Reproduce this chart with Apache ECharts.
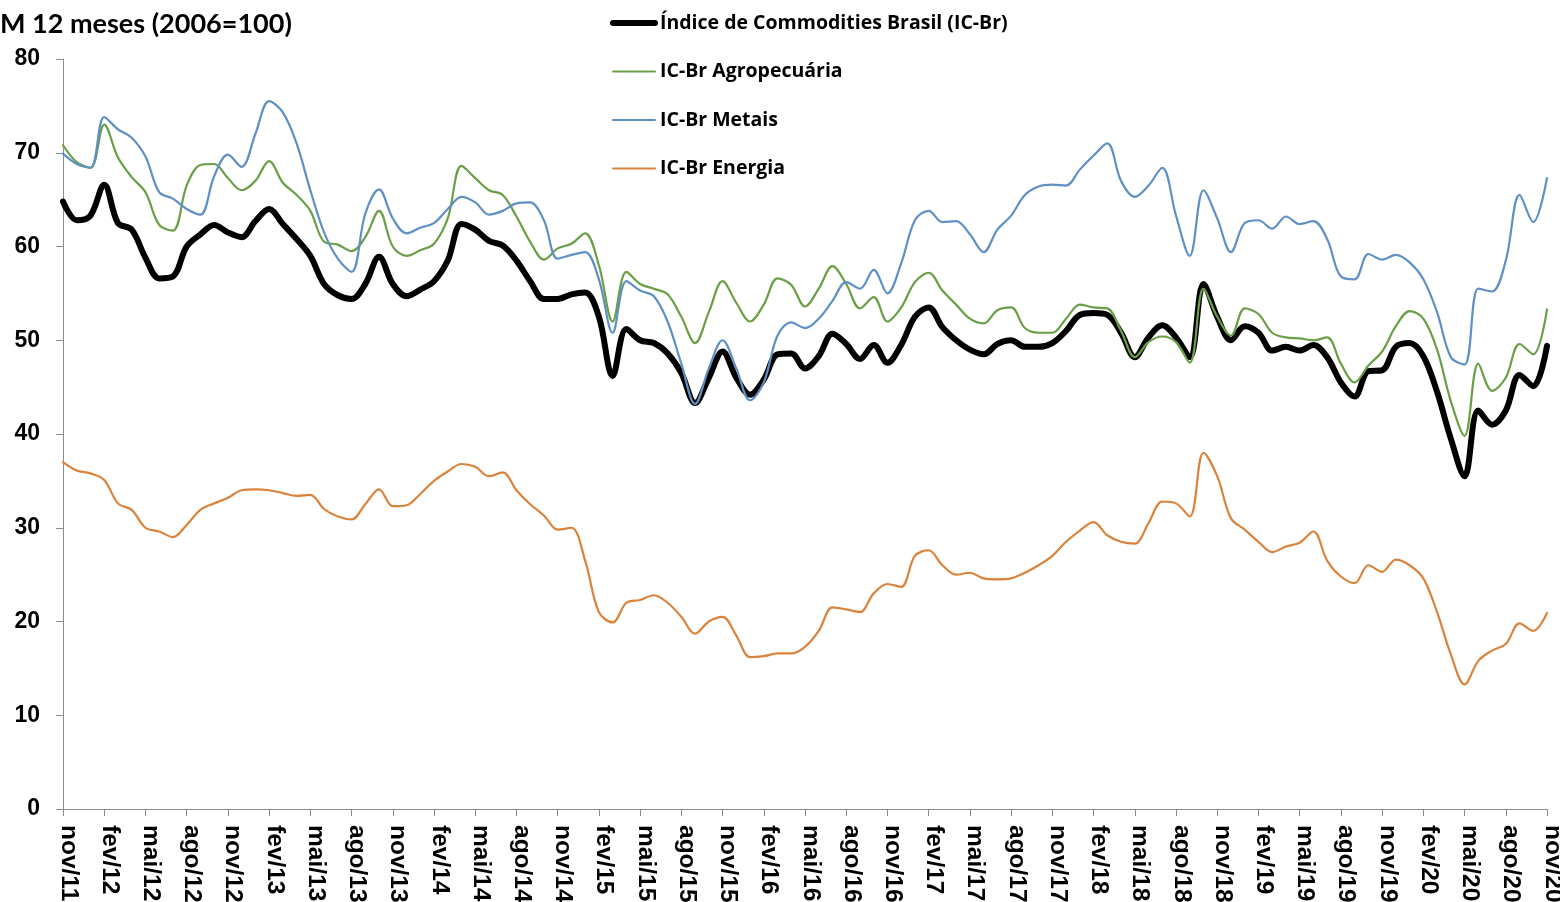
<!DOCTYPE html>
<html>
<head>
<meta charset="utf-8">
<script src="https://cdn.jsdelivr.net/npm/echarts@6/dist/echarts.min.js"></script>
<style>
  html, body { margin: 0; padding: 0; background: #fff; }
  #chart { width: 1560px; height: 902px; }
</style>
</head>
<body>
<div id="chart"></div>
<script>
// Monthly axis: nov/11 .. nov/20 (12-month moving averages, 2006 = 100)
const monthNames = ['jan','fev','mar','abr','mai','jun','jul','ago','set','out','nov','dez'];
const categories = [];
for (let k = 0; k < 109; k++) {
  const m = (10 + k) % 12;
  const y = 11 + Math.floor((10 + k) / 12);
  categories.push(monthNames[m] + '/' + y);
}

const seriesNames = [
  'Índice de Commodities Brasil (IC-Br)',
  'IC-Br Agropecuária',
  'IC-Br Metais',
  'IC-Br Energia'
];

const icBr = [
  64.8, 62.8, 63.3, 66.6, 62.5, 61.8, 58.8, 56.6, 56.8, 60.0,
  61.3, 62.3, 61.5, 61.0, 62.7, 64.0, 62.4, 60.8, 59.0, 56.0,
  54.8, 54.4, 56.0, 58.9, 56.0, 54.7, 55.4, 56.3, 58.5, 62.4,
  61.8, 60.6, 60.1, 58.5, 56.3, 54.4, 54.4, 54.9, 55.1, 52.5,
  46.2, 51.2, 50.0, 49.7, 48.6, 46.5, 43.3, 46.0, 48.8, 46.0,
  44.2, 45.8, 48.5, 48.6, 47.0, 48.3, 50.7, 49.6, 48.0, 49.5,
  47.6, 49.5, 52.5, 53.5, 51.4, 50.0, 49.0, 48.5, 49.6, 50.0,
  49.3, 49.3, 49.7, 51.0, 52.7, 52.9, 52.7, 50.8, 48.2, 50.3,
  51.6, 50.3, 48.2, 56.0, 52.5, 50.0, 51.5, 50.8, 48.9, 49.3,
  48.9, 49.5, 48.2, 45.5, 44.0, 46.7, 46.8, 49.3, 49.7, 48.3,
  44.5, 39.5, 35.5, 42.5, 41.0, 42.5, 46.3, 45.1, 49.4
];

const agro = [
  70.8, 69.0, 68.4, 73.0, 69.5, 67.4, 65.8, 62.3, 61.7, 66.5,
  68.7, 68.8, 67.3, 66.0, 67.0, 69.1, 66.8, 65.5, 63.8, 60.5,
  60.2, 59.5, 61.0, 63.8, 60.0, 59.0, 59.6, 60.3, 63.0, 68.6,
  67.3, 66.0, 65.5, 63.2, 60.5, 58.6, 59.8, 60.3, 61.4, 58.0,
  52.0, 57.3, 56.0, 55.5, 54.9, 52.5, 49.7, 53.0, 56.3, 54.0,
  52.0, 53.8, 56.6, 55.9, 53.6, 55.5, 57.9, 56.0, 53.4, 54.6,
  52.0, 53.5, 56.2, 57.2, 55.3, 53.8, 52.3, 51.8, 53.2, 53.5,
  51.3, 50.8, 50.8, 52.3, 53.8, 53.5, 53.4, 51.0, 48.2, 49.8,
  50.4, 49.8, 47.6, 55.5, 52.5, 50.5, 53.4, 52.8, 50.8, 50.3,
  50.2, 50.0, 50.3, 47.5, 45.5, 47.3, 48.8, 51.5, 53.1, 52.3,
  49.0, 43.5, 39.8, 47.5, 44.6, 46.0, 49.6, 48.5, 53.3
];

const metais = [
  69.9, 68.8, 68.4, 73.8, 72.5, 71.6, 69.6, 65.8, 65.1, 64.0,
  63.4, 67.5, 69.8, 68.5, 72.0, 75.5, 74.3, 71.0, 66.0, 61.5,
  58.7, 57.3, 63.5, 66.1, 63.0, 61.4, 62.0, 62.5, 64.0, 65.3,
  64.7, 63.4, 63.8, 64.6, 64.7, 62.8, 58.7, 59.1, 59.4, 56.5,
  50.8, 56.3, 55.3, 54.7, 52.0, 47.5, 43.2, 47.0, 50.0, 47.0,
  43.6, 45.5, 50.5, 51.9, 51.3, 52.3, 54.2, 56.2, 55.5, 57.5,
  55.0, 58.2, 62.8, 63.8, 62.6, 62.7, 61.3, 59.4, 61.8, 63.3,
  65.5, 66.4, 66.6, 66.5, 68.2, 69.7, 71.0, 67.0, 65.3, 66.5,
  68.4, 63.3, 59.0, 66.0, 63.0, 59.4, 62.5, 62.8, 61.9, 63.2,
  62.4, 62.7, 60.8, 56.8, 56.5, 59.2, 58.6, 59.1, 58.3, 56.5,
  53.0, 48.2, 47.4, 55.5, 55.2, 58.5, 65.5, 62.6, 67.3
];

const energia = [
  37.0, 36.1, 35.8, 35.1, 32.6, 31.9, 30.0, 29.6, 29.0, 30.3,
  31.9, 32.6, 33.2, 34.0, 34.1, 34.0, 33.7, 33.4, 33.5, 32.0,
  31.2, 30.9, 32.5, 34.1, 32.3, 32.4, 33.6, 35.0, 36.0, 36.8,
  36.5, 35.5, 35.9, 34.0, 32.5, 31.3, 29.8, 30.0, 26.5, 21.0,
  19.9, 22.0, 22.3, 22.8, 22.0, 20.5, 18.7, 20.0, 20.5, 18.5,
  16.2, 16.3, 16.6, 16.6, 17.3, 19.0, 21.5, 21.3, 21.0, 23.0,
  24.0, 23.7, 27.0, 27.6, 26.0, 25.0, 25.2, 24.6, 24.5, 24.6,
  25.2, 26.0, 27.0, 28.5, 29.7, 30.6, 29.2, 28.5, 28.3, 30.5,
  32.8, 32.6, 31.2, 38.0, 35.5, 31.0, 29.8, 28.5, 27.4, 28.0,
  28.4, 29.6, 26.5, 24.8, 24.1, 26.0, 25.3, 26.6, 26.0, 24.6,
  21.0, 16.5, 13.3, 15.8, 16.9, 17.6, 19.8, 19.0, 20.9
];

const yTicks = [0, 10, 20, 30, 40, 50, 60, 70, 80];

const colors = ['#000000', '#6a9f47', '#5f90c4', '#d9833c'];
const widths = [6, 2.2, 2.2, 2.2];
const values = [icBr, agro, metais, energia];

const axisGrey = '#8c8c8c';
const labelFont = { fontFamily: 'Liberation Sans', fontWeight: 'bold', color: '#000' };

const chart = echarts.init(document.getElementById('chart'), null, { renderer: 'canvas' });

chart.setOption({
  animation: false,
  backgroundColor: '#ffffff',
  title: {
    text: 'M 12 meses (2006=100)',
    left: 0,
    top: 11,
    padding: 0,
    textStyle: { fontFamily: 'Lato', fontWeight: 'bold', fontSize: 27, color: '#000' }
  },
  legend: {
    show: true,
    orient: 'vertical',
    left: 610,
    top: 13,
    padding: 0,
    itemWidth: 42,
    itemHeight: 20,
    itemGap: 28.5,
    itemStyle: { opacity: 0 },
    textStyle: { fontFamily: 'Open Sans', fontWeight: 'bold', fontSize: 19.5, lineHeight: 20, color: '#000' },
    data: [
      { name: seriesNames[0], lineStyle: { width: 6 } },
      { name: seriesNames[1] },
      { name: seriesNames[2] },
      { name: seriesNames[3] }
    ]
  },
  grid: { left: 63, right: 13, top: 59, bottom: 93, containLabel: false, outerBoundsMode: 'none' },
  xAxis: {
    type: 'category',
    data: categories,
    boundaryGap: false,
    axisLine: { lineStyle: { color: axisGrey, width: 1 } },
    axisTick: { interval: 2, length: 7, lineStyle: { color: axisGrey } },
    axisLabel: Object.assign({
      interval: 2, rotate: -90, margin: 16, fontSize: 24.5,
      verticalAlign: 'bottom', lineHeight: 10.5
    }, labelFont),
    splitLine: { show: false }
  },
  yAxis: {
    type: 'value',
    min: yTicks[0],
    max: yTicks[yTicks.length - 1],
    interval: 10,
    axisLine: { show: true, lineStyle: { color: axisGrey, width: 1 } },
    axisTick: { show: true, length: 7, lineStyle: { color: axisGrey } },
    axisLabel: Object.assign({ margin: 23, fontSize: 23 }, labelFont),
    splitLine: { show: false }
  },
  series: seriesNames.map((n, i) => ({
    name: n,
    type: 'line',
    data: values[i],
    smooth: 0.35,
    symbol: 'none',
    lineStyle: { color: colors[i], width: widths[i], cap: 'round', join: 'round' },
    itemStyle: { color: colors[i] },
    emphasis: { disabled: true }
  }))
});
</script>
</body>
</html>
